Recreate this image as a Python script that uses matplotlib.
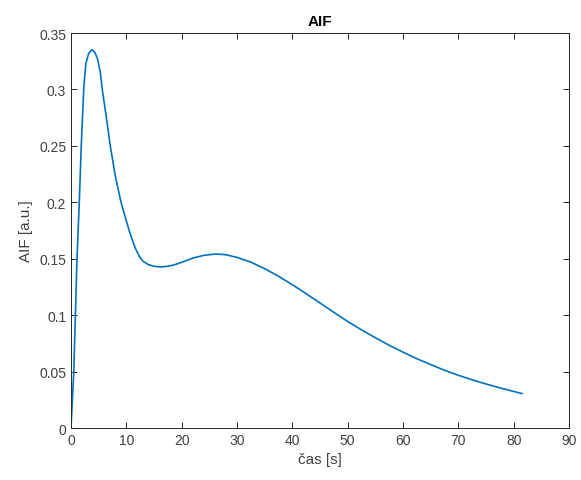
import numpy as np
import matplotlib.pyplot as plt

# values
time_s = [0.0, 0.25, 0.5, 0.8, 1.08, 1.5, 1.85, 2.3, 2.45, 2.7, 3.2, 3.8, 4.3, 4.8,
          5.3, 5.65, 6.4, 7.1, 8.0, 9.04, 9.8, 10.45, 11.05, 11.65, 12.3, 13.0,
          14.0, 15.0, 16.1, 17.2, 18.5, 20.0, 22.0, 24.0, 26.2, 28.0, 30.0, 32.5,
          35.0, 37.5, 40.0, 42.5, 45.0, 47.5, 50.0, 52.5, 55.0, 57.5, 60.0, 62.5,
          65.0, 67.5, 70.0, 72.5, 75.0, 77.5, 80.0, 81.5]
aif = [0.0, 0.025, 0.05, 0.10, 0.15, 0.20, 0.25, 0.30, 0.31, 0.323, 0.332, 0.3352,
       0.333, 0.327, 0.315, 0.30, 0.275, 0.25, 0.2235, 0.20, 0.187, 0.176, 0.167,
       0.159, 0.1525, 0.1478, 0.1447, 0.1433, 0.1427, 0.1431, 0.1443, 0.1468,
       0.1505, 0.1530, 0.1542, 0.1535, 0.1512, 0.1470, 0.1412, 0.1345, 0.1270,
       0.1190, 0.1108, 0.1025, 0.0944, 0.0870, 0.0800, 0.0733, 0.0672, 0.0614,
       0.0562, 0.0512, 0.0467, 0.0427, 0.0390, 0.0356, 0.0324, 0.0305]

plt.rcParams['font.family'] = ['Liberation Sans', 'DejaVu Sans']

fig = plt.figure(figsize=(5.81, 4.81), dpi=100)
ax = fig.add_axes([0.1222, 0.1081, 0.8571, 0.8212])

ax.plot(time_s, aif, color='#0072BD', linewidth=1.2)

ax.set_xlim(0, 90)
ax.set_ylim(0, 0.35)
ax.set_xticks(np.arange(0, 91, 10))
ax.set_yticks(np.arange(0, 0.351, 0.05))
ax.set_yticklabels(['0', '0.05', '0.1', '0.15', '0.2', '0.25', '0.3', '0.35'])

axis_col = '#262626'
for s in ax.spines.values():
    s.set_color(axis_col)
    s.set_linewidth(0.7)
ax.tick_params(direction='in', top=True, right=True, length=4, width=0.7,
               colors=axis_col, labelsize=10, labelcolor='#404040')

ax.set_xlabel('čas [s]', fontsize=11, color='#404040')
ax.set_ylabel('AIF [a.u.]', fontsize=11, color='#404040')
ax.set_title('AIF', fontsize=11, fontweight='bold', pad=6)

fig.savefig('out.png', dpi=100)
